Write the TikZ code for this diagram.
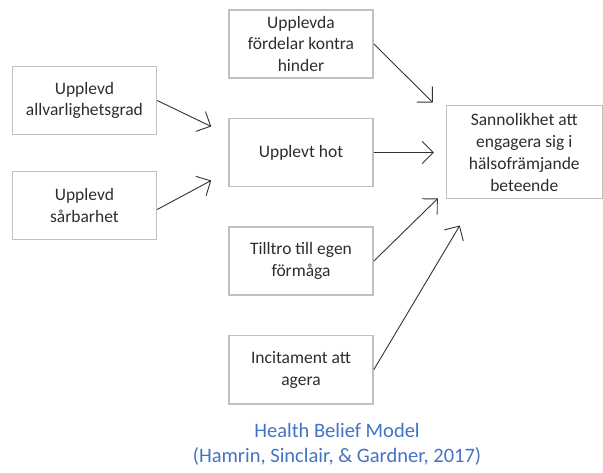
\documentclass[tikz,border=0pt]{standalone}
\usepackage{fontspec}
\setmainfont{Carlito}
\usetikzlibrary{arrows.meta, positioning, calc}
\definecolor{boxGray}{RGB}{191,191,191}
\definecolor{captionBlue}{RGB}{68,114,196}
\definecolor{textDark}{RGB}{45,45,45}

\begin{document}
\begin{tikzpicture}[
    x=1pt, y=1pt,
    node distance=39pt and 71pt,
    box/.style={draw=boxGray, line width=1.6pt, align=center, minimum width=144pt, minimum height=68pt, inner sep=2pt, text=textDark, font=\fontsize{17.5}{21.7}\selectfont},
    goal/.style={box, line width=1pt, minimum width=156pt, minimum height=93pt},
    arrow/.style={-{Straight Barb[length=11pt, width=22pt]}, line width=0.9pt, black!80},
    caption/.style={align=center, text=captionBlue, font=\fontsize{20.5}{25}\selectfont}
  ]
  \useasboundingbox (0,0) rectangle (603,-473);

  % Middle column
  \node[box] (hot) at (301,-152.5) {Upplevt hot};
  \node[box, above=of hot] (fordelar) {Upplevda\\fördelar kontra\\hinder};
  \node[box, below=of hot] (tilltro) {Tilltro till egen\\förmåga};
  \node[box, below=of tilltro] (incit) {Incitament att\\agera};

  % Left column
  \node[box, left=of hot, yshift=52pt] (allv) {Upplevd\\allvarlighetsgrad};
  \node[box, left=of hot, yshift=-53pt] (sarb) {Upplevd\\sårbarhet};

  % Outcome
  \node[goal, right=72pt of hot] (sann) {Sannolikhet att\\engagera sig i\\hälsofrämjande\\beteende};

  % Free arrow ends
  \coordinate (allvEnd) at ($(hot.west)+(-17,26)$);
  \coordinate (sarbEnd) at ($(hot.west)+(-17,-28)$);
  \coordinate (fordEnd) at ($(sann.north west)+(-13,3)$);
  \coordinate (hotEnd) at ($(sann.west)+(-12,0)$);
  \coordinate (tillEnd) at ($(sann.south west)+(-8,1)$);
  \coordinate (incEnd) at ($(sann.south west)+(14,-26)$);

  \draw[arrow] (allv.east) -- (allvEnd);
  \draw[arrow] ([yshift=-4pt]sarb.east) -- (sarbEnd);
  \draw[arrow] (fordelar.east) -- (fordEnd);
  \draw[arrow] (hot.east) -- (hotEnd);
  \draw[arrow] (tilltro.east) -- (tillEnd);
  \draw[arrow] (incit.east) -- (incEnd);

  % Caption
  \node[caption, below=15pt of incit, xshift=36pt] (cap) {Health Belief Model\\(Hamrin, Sinclair, \& Gardner, 2017)};

\end{tikzpicture}
\end{document}
